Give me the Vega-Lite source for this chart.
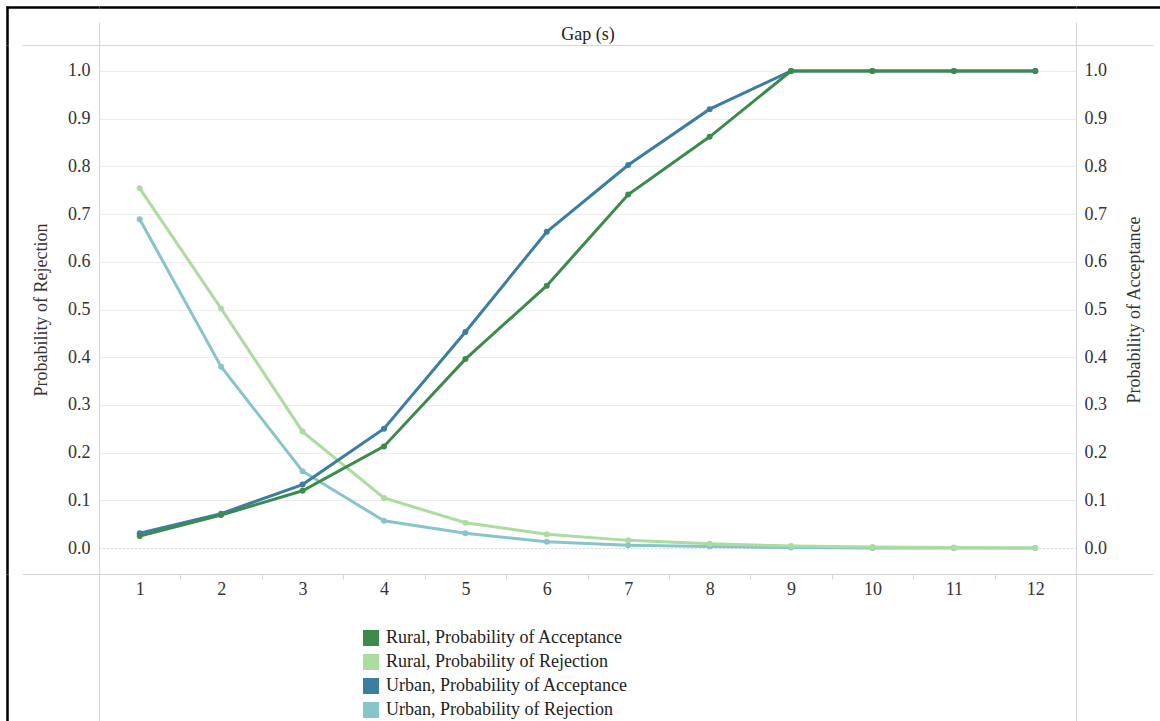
{
  "$schema": "https://vega.github.io/schema/vega-lite/v6.json",
  "width": 977,
  "height": 529,
  "autosize": "none",
  "padding": {"left": 99, "top": 45, "right": 84, "bottom": 147},
  "background": "white",
  "config": {
    "view": {"stroke": "#d6d6d6", "strokeWidth": 1},
    "font": "Liberation Serif",
    "axis": {
      "labelFont": "Liberation Serif",
      "titleFont": "Liberation Serif",
      "labelFontSize": 18,
      "titleFontSize": 18,
      "labelColor": "#333333",
      "titleColor": "#333333",
      "titleFontWeight": "normal",
      "domain": false,
      "grid": false,
      "ticks": false,
      "labels": false,
      "labelFlush": false,
      "labelOverlap": false
    }
  },
  "data": {
    "values": [
      {"gap": 1, "series": "Urban, Probability of Rejection", "p": 0.689},
      {"gap": 2, "series": "Urban, Probability of Rejection", "p": 0.380},
      {"gap": 3, "series": "Urban, Probability of Rejection", "p": 0.161},
      {"gap": 4, "series": "Urban, Probability of Rejection", "p": 0.057},
      {"gap": 5, "series": "Urban, Probability of Rejection", "p": 0.031},
      {"gap": 6, "series": "Urban, Probability of Rejection", "p": 0.013},
      {"gap": 7, "series": "Urban, Probability of Rejection", "p": 0.006},
      {"gap": 8, "series": "Urban, Probability of Rejection", "p": 0.003},
      {"gap": 9, "series": "Urban, Probability of Rejection", "p": 0.001},
      {"gap": 10, "series": "Urban, Probability of Rejection", "p": 0.0},
      {"gap": 11, "series": "Urban, Probability of Rejection", "p": 0.0},
      {"gap": 12, "series": "Urban, Probability of Rejection", "p": 0.0},
      {"gap": 1, "series": "Urban, Probability of Acceptance", "p": 0.031},
      {"gap": 2, "series": "Urban, Probability of Acceptance", "p": 0.072},
      {"gap": 3, "series": "Urban, Probability of Acceptance", "p": 0.133},
      {"gap": 4, "series": "Urban, Probability of Acceptance", "p": 0.250},
      {"gap": 5, "series": "Urban, Probability of Acceptance", "p": 0.453},
      {"gap": 6, "series": "Urban, Probability of Acceptance", "p": 0.663},
      {"gap": 7, "series": "Urban, Probability of Acceptance", "p": 0.803},
      {"gap": 8, "series": "Urban, Probability of Acceptance", "p": 0.920},
      {"gap": 9, "series": "Urban, Probability of Acceptance", "p": 1.0},
      {"gap": 10, "series": "Urban, Probability of Acceptance", "p": 1.0},
      {"gap": 11, "series": "Urban, Probability of Acceptance", "p": 1.0},
      {"gap": 12, "series": "Urban, Probability of Acceptance", "p": 1.0},
      {"gap": 1, "series": "Rural, Probability of Rejection", "p": 0.754},
      {"gap": 2, "series": "Rural, Probability of Rejection", "p": 0.502},
      {"gap": 3, "series": "Rural, Probability of Rejection", "p": 0.244},
      {"gap": 4, "series": "Rural, Probability of Rejection", "p": 0.105},
      {"gap": 5, "series": "Rural, Probability of Rejection", "p": 0.053},
      {"gap": 6, "series": "Rural, Probability of Rejection", "p": 0.029},
      {"gap": 7, "series": "Rural, Probability of Rejection", "p": 0.016},
      {"gap": 8, "series": "Rural, Probability of Rejection", "p": 0.009},
      {"gap": 9, "series": "Rural, Probability of Rejection", "p": 0.004},
      {"gap": 10, "series": "Rural, Probability of Rejection", "p": 0.002},
      {"gap": 11, "series": "Rural, Probability of Rejection", "p": 0.001},
      {"gap": 12, "series": "Rural, Probability of Rejection", "p": 0.0},
      {"gap": 1, "series": "Rural, Probability of Acceptance", "p": 0.025},
      {"gap": 2, "series": "Rural, Probability of Acceptance", "p": 0.069},
      {"gap": 3, "series": "Rural, Probability of Acceptance", "p": 0.120},
      {"gap": 4, "series": "Rural, Probability of Acceptance", "p": 0.213},
      {"gap": 5, "series": "Rural, Probability of Acceptance", "p": 0.396},
      {"gap": 6, "series": "Rural, Probability of Acceptance", "p": 0.550},
      {"gap": 7, "series": "Rural, Probability of Acceptance", "p": 0.741},
      {"gap": 8, "series": "Rural, Probability of Acceptance", "p": 0.862},
      {"gap": 9, "series": "Rural, Probability of Acceptance", "p": 1.0},
      {"gap": 10, "series": "Rural, Probability of Acceptance", "p": 1.0},
      {"gap": 11, "series": "Rural, Probability of Acceptance", "p": 1.0},
      {"gap": 12, "series": "Rural, Probability of Acceptance", "p": 1.0}
    ]
  },
  "encoding": {
    "color": {
      "field": "series",
      "type": "nominal",
      "scale": {
        "domain": ["Rural, Probability of Acceptance", "Rural, Probability of Rejection", "Urban, Probability of Acceptance", "Urban, Probability of Rejection"],
        "range": ["#3b8b4b", "#aadd9e", "#3a7ea2", "#86c5ca"]
      },
      "legend": {
        "orient": "none",
        "legendX": 263,
        "legendY": 584,
        "title": null,
        "direction": "vertical",
        "symbolType": "square",
        "symbolSize": 256,
        "symbolStrokeWidth": 0,
        "labelFont": "Liberation Serif",
        "labelFontSize": 18,
        "labelColor": "#222222",
        "labelOffset": 6,
        "labelLimit": 400,
        "rowPadding": 6,
        "padding": 0,
        "encode": {
          "symbols": {
            "update": {
              "fill": {"scale": "color", "field": "value"},
              "strokeWidth": {"value": 0},
              "opacity": {"value": 1}
            }
          }
        }
      }
    }
  },
  "layer": [
    {
      "transform": [{"filter": "datum.series === 'Urban, Probability of Rejection'"}],
      "mark": {"type": "line", "strokeWidth": 3},
      "encoding": {
        "x": {
          "field": "gap", "type": "quantitative",
          "scale": {"domain": [0.5, 12.5], "nice": false, "zero": false},
          "axis": {
            "orient": "bottom",
            "values": [1, 2, 3, 4, 5, 6, 7, 8, 9, 10, 11, 12],
            "labels": true,
            "format": "d",
            "labelPadding": 6,
            "ticks": false,
            "tickSize": 0,
            "title": null
          }
        },
        "y": {
          "field": "p", "type": "quantitative",
          "scale": {"domain": [-0.0545, 1.0545], "nice": false, "zero": false},
          "axis": {
            "orient": "left",
            "values": [0, 0.1, 0.2, 0.3, 0.4, 0.5, 0.6, 0.7, 0.8, 0.9, 1.0],
            "labels": true,
            "format": ".1f",
            "labelPadding": 9,
            "ticks": false,
            "tickSize": 0,
            "grid": true,
            "gridColor": {"condition": {"test": "datum.value === 0", "value": "#b5b5b5"}, "value": "#ededed"},
            "gridDash": {"condition": {"test": "datum.value === 0", "value": [1, 3]}, "value": []},
            "title": "Probability of Rejection",
            "titleX": -53,
            "titleAngle": 270,
            "titleAlign": "center",
            "titleBaseline": "alphabetic"
          }
        }
      }
    },
    {
      "transform": [{"filter": "datum.series === 'Rural, Probability of Rejection'"}],
      "mark": {"type": "line", "strokeWidth": 3},
      "encoding": {
        "x": {
          "field": "gap", "type": "quantitative",
          "scale": {"domain": [0.5, 12.5], "nice": false, "zero": false},
          "axis": {
            "orient": "bottom",
            "values": [0.5, 1.5, 2.5, 3.5, 4.5, 5.5, 6.5, 7.5, 8.5, 9.5, 10.5, 11.5, 12.5],
            "ticks": true,
            "tickSize": {"condition": {"test": "datum.value < 1 || datum.value > 12", "value": 147}, "value": 5},
            "tickColor": "#d6d6d6",
            "labels": false,
            "title": null
          }
        },
        "y": {
          "field": "p", "type": "quantitative",
          "scale": {"domain": [-0.0545, 1.0545], "nice": false, "zero": false},
          "axis": {
            "orient": "right",
            "values": [0, 0.1, 0.2, 0.3, 0.4, 0.5, 0.6, 0.7, 0.8, 0.9, 1.0],
            "labels": true,
            "format": ".1f",
            "labelPadding": 8,
            "ticks": false,
            "tickSize": 0,
            "title": "Probability of Acceptance",
            "titleX": 63,
            "titleAngle": 270,
            "titleAlign": "center",
            "titleBaseline": "alphabetic"
          }
        }
      }
    },
    {
      "transform": [{"filter": "datum.series === 'Urban, Probability of Acceptance'"}],
      "mark": {"type": "line", "strokeWidth": 3},
      "encoding": {
        "x": {
          "field": "gap", "type": "quantitative",
          "scale": {"domain": [0.5, 12.5], "nice": false, "zero": false},
          "axis": {
            "orient": "top",
            "values": [0.5, 12.5],
            "ticks": true,
            "tickSize": 23,
            "tickColor": "#d6d6d6",
            "labels": false,
            "title": "Gap (s)",
            "titleY": -6,
            "titleBaseline": "alphabetic",
            "titleColor": "#222222"
          }
        },
        "y": {
          "field": "p", "type": "quantitative",
          "scale": {"domain": [-0.0545, 1.0545], "nice": false, "zero": false},
          "axis": {
            "orient": "left",
            "values": [-0.0545, 1.0545],
            "ticks": true,
            "tickSize": 77,
            "tickColor": "#d6d6d6",
            "labels": false,
            "title": null
          }
        }
      }
    },
    {
      "transform": [{"filter": "datum.series === 'Rural, Probability of Acceptance'"}],
      "mark": {"type": "line", "strokeWidth": 3},
      "encoding": {
        "x": {
          "field": "gap", "type": "quantitative",
          "scale": {"domain": [0.5, 12.5], "nice": false, "zero": false},
          "axis": {
            "orient": "top",
            "values": [0.5],
            "ticks": true,
            "tickSize": 39,
            "tickColor": "#000000",
            "tickWidth": 2.5,
            "tickOffset": -92.5,
            "grid": true,
            "gridColor": "#000000",
            "gridWidth": 2.5,
            "labels": false,
            "title": null
          }
        },
        "y": {
          "field": "p", "type": "quantitative",
          "scale": {"domain": [-0.0545, 1.0545], "nice": false, "zero": false},
          "axis": {
            "orient": "right",
            "values": [-0.0545, 1.0545],
            "ticks": true,
            "tickSize": 77,
            "tickColor": "#d6d6d6",
            "labels": false,
            "title": null
          }
        }
      }
    },
    {
      "transform": [{"filter": "indexof(datum.series, 'Rejection') >= 0"}],
      "mark": {"type": "circle", "size": 36, "opacity": 1},
      "encoding": {
        "x": {
          "field": "gap", "type": "quantitative",
          "scale": {"domain": [0.5, 12.5], "nice": false, "zero": false},
          "axis": {
            "orient": "bottom",
            "values": [0.5],
            "ticks": true,
            "tickSize": 147,
            "tickColor": "#000000",
            "tickWidth": 2.5,
            "tickOffset": -92.5,
            "labels": false,
            "title": null
          }
        },
        "y": {
          "field": "p", "type": "quantitative",
          "scale": {"domain": [-0.0545, 1.0545], "nice": false, "zero": false},
          "axis": {
            "orient": "left",
            "values": [1.0545],
            "ticks": true,
            "tickSize": 93,
            "tickColor": "#000000",
            "tickWidth": 2.5,
            "tickOffset": -38.5,
            "grid": true,
            "gridColor": "#000000",
            "gridWidth": 2.5,
            "labels": false,
            "title": null
          }
        }
      }
    },
    {
      "transform": [{"filter": "indexof(datum.series, 'Acceptance') >= 0"}],
      "mark": {"type": "circle", "size": 36, "opacity": 1},
      "encoding": {
        "x": {
          "field": "gap", "type": "quantitative",
          "scale": {"domain": [0.5, 12.5], "nice": false, "zero": false},
          "axis": null
        },
        "y": {
          "field": "p", "type": "quantitative",
          "scale": {"domain": [-0.0545, 1.0545], "nice": false, "zero": false},
          "axis": {
            "orient": "right",
            "values": [1.0545],
            "ticks": true,
            "tickSize": 84,
            "tickColor": "#000000",
            "tickWidth": 2.5,
            "tickOffset": -38.5,
            "labels": false,
            "title": null
          }
        }
      }
    }
  ],
  "resolve": {"axis": {"x": "independent", "y": "independent"}}
}
